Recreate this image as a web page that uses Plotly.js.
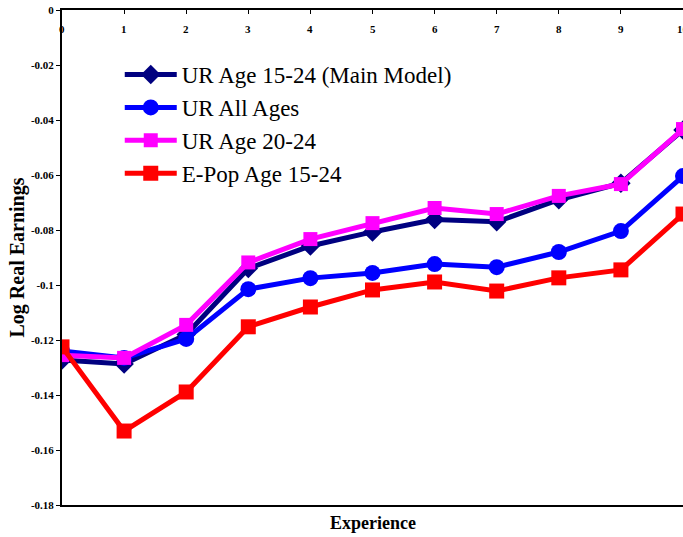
<!DOCTYPE html>
<html><head><meta charset="utf-8">
<script src="https://cdn.plot.ly/plotly-3.0.1.min.js"></script>
<style>html,body{margin:0;padding:0;background:#fff;}#chart{width:683px;height:537px;}</style>
</head><body><div id="chart"></div>
<script>
const experience = [0,1,2,3,4,5,6,7,8,9,10];
const urAge1524 = [-0.1273,-0.1287,-0.1180,-0.0940,-0.0858,-0.0807,-0.0762,-0.0770,-0.0690,-0.0630,-0.0436];
const urAllAges = [-0.1240,-0.1265,-0.1196,-0.1015,-0.0975,-0.0956,-0.0924,-0.0935,-0.0880,-0.0804,-0.0604];
const urAge2024 = [-0.1255,-0.1265,-0.1145,-0.0918,-0.0833,-0.0775,-0.0720,-0.0742,-0.0676,-0.0633,-0.0433];
const ePop1524 = [-0.1225,-0.1531,-0.1389,-0.1152,-0.1080,-0.1018,-0.0989,-0.1022,-0.0974,-0.0945,-0.0742];
const seriesNames = ["UR Age 15-24 (Main Model)","UR All Ages","UR Age 20-24","E-Pop Age 15-24"];
const yTickVals = [0,-0.02,-0.04,-0.06,-0.08,-0.1,-0.12,-0.14,-0.16,-0.18];
const yTickText = ["0","-0.02","-0.04","-0.06","-0.08","-0.1","-0.12","-0.14","-0.16","-0.18"];
const xTickText = ["0","1","2","3","4","5","6","7","8","9","10"];

const serif = "'Liberation Serif', 'Times New Roman', serif";
function tr(y, name, color, symbol, size, grp){
  return {x: experience, y: y, name: name, type: 'scatter', mode: 'lines+markers',
    line: {color: color, width: 5}, marker: {color: color, symbol: symbol, size: size},
    legendgroup: grp};
}
const data = [
  tr(urAge1524, seriesNames[0], '#000080', 'diamond', 15, 'a'),
  tr(urAllAges, seriesNames[1], '#0000FF', 'circle', 16, 'b'),
  tr(urAge2024, seriesNames[2], '#FF00FF', 'square', 14, 'c'),
  tr(ePop1524, seriesNames[3], '#FF0000', 'square', 15, 'd')
];
const tickFont = {family: serif, size: 11, color: '#000', weight: 'bold'};
const xLabelAnnotations = experience.map((v, i) => ({
  text: xTickText[i], xref: 'x', yref: 'paper', x: v, y: 1, yanchor: 'middle', yshift: -19,
  showarrow: false, font: tickFont
}));
const layout = {
  width: 683, height: 537,
  margin: {l: 62, r: 0, t: 10, b: 32},
  paper_bgcolor: '#fff', plot_bgcolor: '#fff',
  showlegend: true,
  legend: {x: 0.093, y: 0.913, xanchor: 'left', yanchor: 'top', bgcolor: 'rgba(0,0,0,0)',
    font: {family: serif, size: 23, color: '#000'}, tracegroupgap: 0, itemwidth: 52},
  xaxis: {range: [0, 10], side: 'top', showgrid: false, zeroline: false,
    showline: true, linecolor: '#000', linewidth: 2, mirror: true,
    ticks: 'inside', ticklen: 4, tickcolor: '#000', showticklabels: false,
    tickvals: experience},
  yaxis: {range: [-0.18, 0], showgrid: false, zeroline: false,
    showline: true, linecolor: '#000', linewidth: 2, mirror: true,
    ticks: 'outside', ticklen: 4, tickcolor: '#000',
    tickvals: yTickVals, ticktext: yTickText, tickfont: tickFont,
    title: {text: 'Log Real Earnings', standoff: 1, font: {family: serif, size: 20, color: '#000', weight: 'bold'}}},
  annotations: xLabelAnnotations.concat([{text: 'Experience', xref: 'paper', yref: 'paper', x: 0.5, y: 0, yshift: -30,
    showarrow: false, font: {family: serif, size: 18, color: '#000', weight: 'bold'}}])
};
Plotly.newPlot('chart', data, layout, {displayModeBar: false, staticPlot: true});
</script></body></html>
